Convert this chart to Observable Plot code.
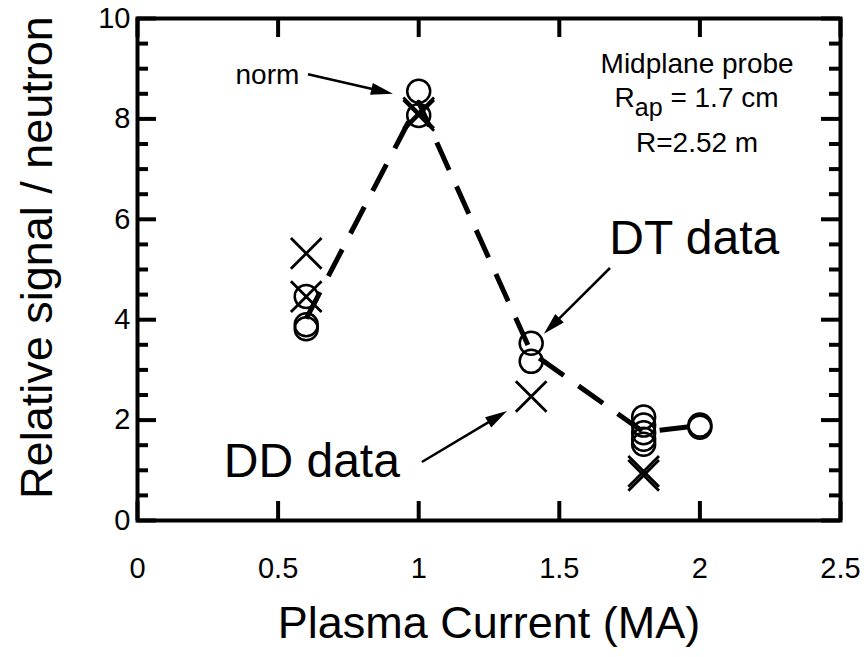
<!DOCTYPE html>
<html><head><meta charset="utf-8">
<script src="https://cdn.jsdelivr.net/npm/d3@7"></script>
<script src="https://cdn.jsdelivr.net/npm/@observablehq/plot@0.6"></script>
<style>
html,body{margin:0;padding:0;background:#fff;}
</style>
</head><body><div id="chart"></div>
<script>
// ---- data ----
const dtX = [0.6, 0.6, 0.6, 1.0, 1.0, 1.4, 1.4, 1.8, 1.8, 1.8, 1.8, 1.8, 2.0, 2.0];
const dtY = [4.46, 3.9, 3.82, 8.55, 8.07, 3.53, 3.17, 2.06, 1.9, 1.75, 1.62, 1.52, 1.86, 1.9];
const ddX = [0.6, 0.6, 1.0, 1.0, 1.4, 1.8, 1.8];
const ddY = [5.32, 4.46, 8.07, 8.12, 2.47, 0.9, 0.98];
const fitX = [0.6, 1.0, 1.4, 1.8, 2.0];
const fitY = [4.02, 8.33, 3.35, 1.76, 1.89];
const xTicks = [0, 0.5, 1, 1.5, 2, 2.5];
const yTicks = [0, 2, 4, 6, 8, 10];
const yMinorTicks = [0.5, 1, 1.5, 2.5, 3, 3.5, 4.5, 5, 5.5, 6.5, 7, 7.5, 8.5, 9, 9.5];
const xLabel = "Plasma Current (MA)";
const yLabel = "Relative signal / neutron";
// annotations (data coordinates)
const noteText = ["norm", "DT data", "DD data"];
const noteX = [0.462, 1.98, 0.62];
const noteY = [8.705, 5.3, 0.857];
const noteSize = [28, 48, 48];
const arrowX1 = [0.608, 1.682, 1.013];
const arrowY1 = [8.88, 5.02, 1.155];
const arrowX2 = [0.910, 1.447, 1.316];
const arrowY2 = [8.49, 3.71, 2.17];
const probeX = 1.99;
const probeTitle = "Midplane probe";
const probeRap = ["R", "ap", " = 1.7 cm"];
const probeR = "R=2.52 m";
const probeY = [8.92, 8.23, 7.35];

// ---- layout ----
const W = 864, H = 657;
const mL = 137, mR = 24, mT = 18, mB = 137;
const pw = W - mL - mR, ph = H - mT - mB;
const ink = "#000";
const font = "'Liberation Sans', Arial, Helvetica, sans-serif";

const dt = dtX.map((x, i) => ({x, y: dtY[i]}));
const dd = ddX.map((x, i) => ({x, y: ddY[i]}));
const fit = fitX.map((x, i) => ({x, y: fitY[i]}));
const notes = noteText.map((t, i) => ({t, x: noteX[i], y: noteY[i], s: noteSize[i]}));

function arrows(index, {x, y}) {
  const g = d3.create("svg:g");
  for (let i = 0; i < arrowX1.length; i++) {
    const x1 = x(arrowX1[i]), y1 = y(arrowY1[i]), x2 = x(arrowX2[i]), y2 = y(arrowY2[i]);
    const a = Math.atan2(y2 - y1, x2 - x1);
    const L = 22, w = 6;
    const bx = x2 - L * Math.cos(a), by = y2 - L * Math.sin(a);
    g.append("line").attr("x1", x1).attr("y1", y1).attr("x2", bx + 2 * Math.cos(a)).attr("y2", by + 2 * Math.sin(a))
      .attr("stroke", ink).attr("stroke-width", 2.5);
    g.append("path")
      .attr("d", `M${x2},${y2}L${bx + w * Math.sin(a)},${by - w * Math.cos(a)}L${bx - w * Math.sin(a)},${by + w * Math.cos(a)}Z`)
      .attr("fill", ink);
  }
  return g.node();
}

function rapNote(index, {x, y}) {
  const t = d3.create("svg:text")
    .attr("x", x(probeX)).attr("y", y(probeY[1]))
    .attr("text-anchor", "middle").attr("font-size", 28).attr("font-family", font).attr("fill", ink);
  t.append("tspan").text(probeRap[0]);
  t.append("tspan").attr("dy", 9).attr("font-size", 25).text(probeRap[1]);
  t.append("tspan").attr("dy", -9).text(probeRap[2]);
  return t.node();
}

const chart = Plot.plot({
  width: W, height: H,
  marginLeft: mL, marginRight: mR, marginTop: mT, marginBottom: mB,
  style: {fontFamily: font, fontSize: "29px", color: ink, background: "#fff"},
  x: {domain: [0, 2.5]},
  y: {domain: [0, 10]},
  marks: [
    // inward ticks
    Plot.tickX(xTicks, {x: d => d, insetTop: ph - 19, stroke: ink, strokeWidth: 4}),
    Plot.tickX(xTicks, {x: d => d, insetBottom: ph - 19, stroke: ink, strokeWidth: 4}),
    Plot.tickY(yMinorTicks, {y: d => d, insetRight: pw - 11, stroke: ink, strokeWidth: 4}),
    Plot.tickY(yMinorTicks, {y: d => d, insetLeft: pw - 11, stroke: ink, strokeWidth: 4}),
    Plot.tickY(yTicks, {y: d => d, insetRight: pw - 19, stroke: ink, strokeWidth: 4}),
    Plot.tickY(yTicks, {y: d => d, insetLeft: pw - 19, stroke: ink, strokeWidth: 4}),
    Plot.frame({stroke: ink, strokeWidth: 4}),
    Plot.axisX(xTicks, {tickSize: 0, tickPadding: 37, tickFormat: d => String(d), label: null, fontSize: 29}),
    Plot.axisY(yTicks, {tickSize: 0, tickPadding: 7, tickFormat: d => String(d), label: null, fontSize: 29}),
    Plot.text([xLabel], {frameAnchor: "bottom", textAnchor: "middle", lineAnchor: "bottom", dy: 117, fontSize: 45, fill: ink}),
    Plot.text([yLabel], {frameAnchor: "left", textAnchor: "middle", rotate: -90, lineAnchor: "bottom", dx: -86, dy: -12, fontSize: 45, fill: ink}),
    // data
    Plot.line(fit, {x: "x", y: "y", stroke: ink, strokeWidth: 5, strokeDasharray: "30,18", strokeLinecap: "butt"}),
    Plot.dot(dt, {x: "x", y: "y", r: 11.5, stroke: ink, strokeWidth: 2.5, fill: "none"}),
    Plot.dot(dd, {x: "x", y: "y", symbol: "times", r: 14, stroke: ink, strokeWidth: 2.8}),
    // annotations
    Plot.text(notes, {x: "x", y: "y", text: "t", fontSize: d => d.s, lineAnchor: "bottom", fill: ink}),
    arrows,
    Plot.text([probeTitle], {x: () => probeX, y: () => probeY[0], lineAnchor: "bottom", fontSize: 28, fill: ink}),
    rapNote,
    Plot.text([probeR], {x: () => probeX, y: () => probeY[2], lineAnchor: "bottom", fontSize: 28, fill: ink})
  ]
});
document.getElementById("chart").append(chart);
</script>
</body></html>
